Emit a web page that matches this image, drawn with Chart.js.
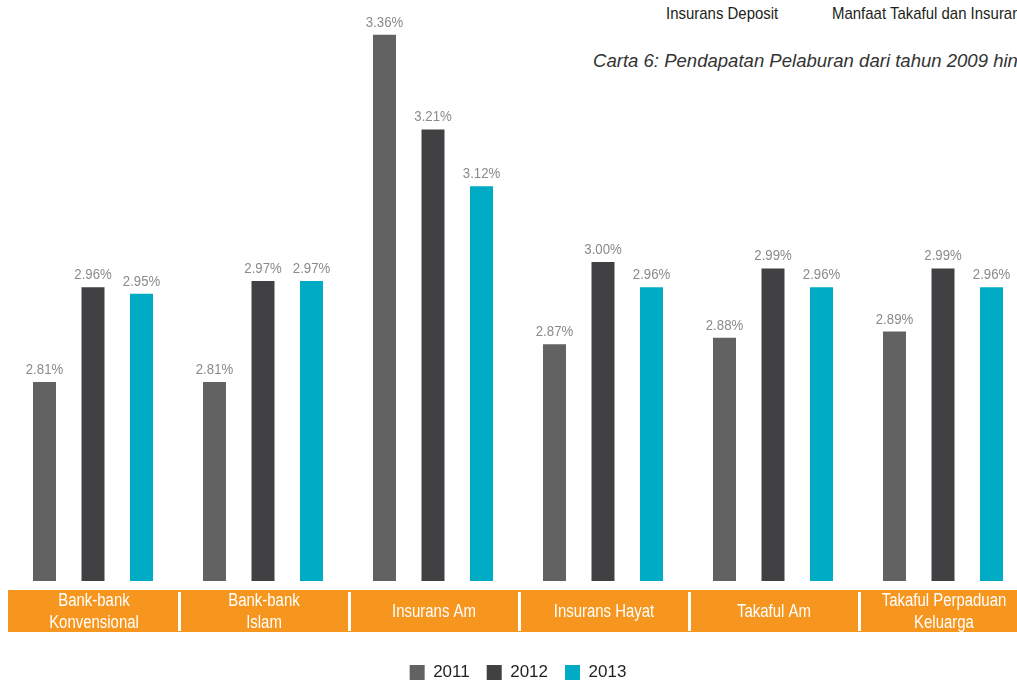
<!DOCTYPE html>
<html>
<head>
<meta charset="utf-8">
<script src="https://cdn.jsdelivr.net/npm/chart.js@4/dist/chart.umd.min.js"></script>
<style>
  html, body { margin: 0; padding: 0; background: #fff; overflow: hidden; }
  body { width: 1017px; height: 680px; position: relative; }
  #wrap { position: absolute; left: 0; top: 0; width: 1040px; height: 691px; }
  .note { position: absolute; white-space: nowrap; color: #231f20; transform-origin: 0 0;
          font-family: 'Liberation Sans', Arial, sans-serif; }
</style>
</head>
<body>
<div class="note" style="left:666px; top:4px; font-size:17px; transform:scaleX(0.88);">Insurans Deposit</div>
<div class="note" style="left:832px; top:4px; font-size:17px; transform:scaleX(0.88);">Manfaat Takaful dan Insurans</div>
<div class="note" style="left:593px; top:51px; font-size:17.5px; font-style:italic; color:#333; transform:scaleX(1.06);">Carta 6: Pendapatan Pelaburan dari tahun 2009 hingga 2013</div>
<div id="wrap"><canvas id="chart"></canvas></div>
<script>
// categories and yearly series
const categories = [
  ['Bank-bank', 'Konvensional'],
  ['Bank-bank', 'Islam'],
  ['Insurans Am'],
  ['Insurans Hayat'],
  ['Takaful Am'],
  ['Takaful Perpaduan', 'Keluarga']
]
const years = ['2011', '2012', '2013']
const data2011 = [2.81, 2.81, 3.36, 2.87, 2.88, 2.89]
const data2012 = [2.96, 2.97, 3.21, 3.00, 2.99, 2.99]
const data2013 = [2.95, 2.97, 3.12, 2.96, 2.96, 2.96]

const colors = ['#626263', '#414143', '#00abc5']
const family = "'Liberation Sans', Arial, sans-serif"

// condensed look: squeeze text sideways
const narrowText = (ctx, text, x, y, sx) => {
  ctx.save()
  ctx.translate(x, y)
  ctx.scale(sx, 1)
  ctx.fillText(text, 0, 0)
  ctx.restore()
}

// value labels above each bar
const valueLabels = {
  id: 'valueLabels',
  afterDatasetsDraw(chart) {
    const ctx = chart.ctx
    ctx.save()
    ctx.font = '15px ' + family
    ctx.fillStyle = '#8a8a8c'
    ctx.textAlign = 'center'
    ctx.textBaseline = 'alphabetic'
    chart.data.datasets.forEach((ds, i) => {
      chart.getDatasetMeta(i).data.forEach((bar, j) => {
        narrowText(ctx, ds.data[j].toFixed(2) + '%', bar.x, bar.y - 8, 0.88)
      })
    })
    ctx.restore()
  }
}

// orange category band under the bars
const categoryBand = {
  id: 'categoryBand',
  afterDraw(chart) {
    const ctx = chart.ctx
    const x = chart.scales.x
    const step = x.getPixelForValue(1) - x.getPixelForValue(0)
    const top = x.top + 9, bottom = x.top + 51
    ctx.save()
    ctx.fillStyle = '#f6961f'
    ctx.fillRect(x.left, top, x.right - x.left, bottom - top)
    ctx.fillStyle = '#ffffff'
    for (let i = 1; i < categories.length; i++) {
      const bx = x.getPixelForValue(i) - step / 2
      ctx.fillRect(Math.round(bx), top + 2, 3, bottom - top - 3)
    }
    ctx.font = '18px ' + family
    ctx.textAlign = 'center'
    ctx.textBaseline = 'middle'
    categories.forEach((lines, i) => {
      const cx = x.getPixelForValue(i) + 1
      const mid = (top + bottom) / 2 + 1
      lines.forEach((t, k) => {
        const y = mid + (k - (lines.length - 1) / 2) * 21.5
        narrowText(ctx, t, cx, y, 0.83)
      })
    })
    ctx.restore()
  }
}

new Chart(document.getElementById('chart'), {
  type: 'bar',
  data: {
    labels: categories.map(c => c.join(' ')),
    datasets: [data2011, data2012, data2013].map((d, i) => ({
      label: years[i],
      data: d,
      backgroundColor: colors[i],
      categoryPercentage: 0.856,
      barPercentage: 0.474
    }))
  },
  options: {
    responsive: true,
    maintainAspectRatio: false,
    animation: false,
    layout: { padding: { left: 8, right: 12, top: 0, bottom: 0 } },
    scales: {
      x: {
        grid: { display: false },
        border: { display: false },
        ticks: { display: false },
        afterFit: s => { s.height = 66 }
      },
      y: { display: false, min: 2.495, max: 3.415 }
    },
    plugins: {
      tooltip: { enabled: false },
      legend: {
        position: 'bottom',
        labels: {
          boxWidth: 15,
          boxHeight: 15,
          padding: 17,
          color: '#231f20',
          font: { family, size: 17 }
        }
      }
    }
  },
  plugins: [valueLabels, categoryBand]
})
</script>
</body>
</html>
